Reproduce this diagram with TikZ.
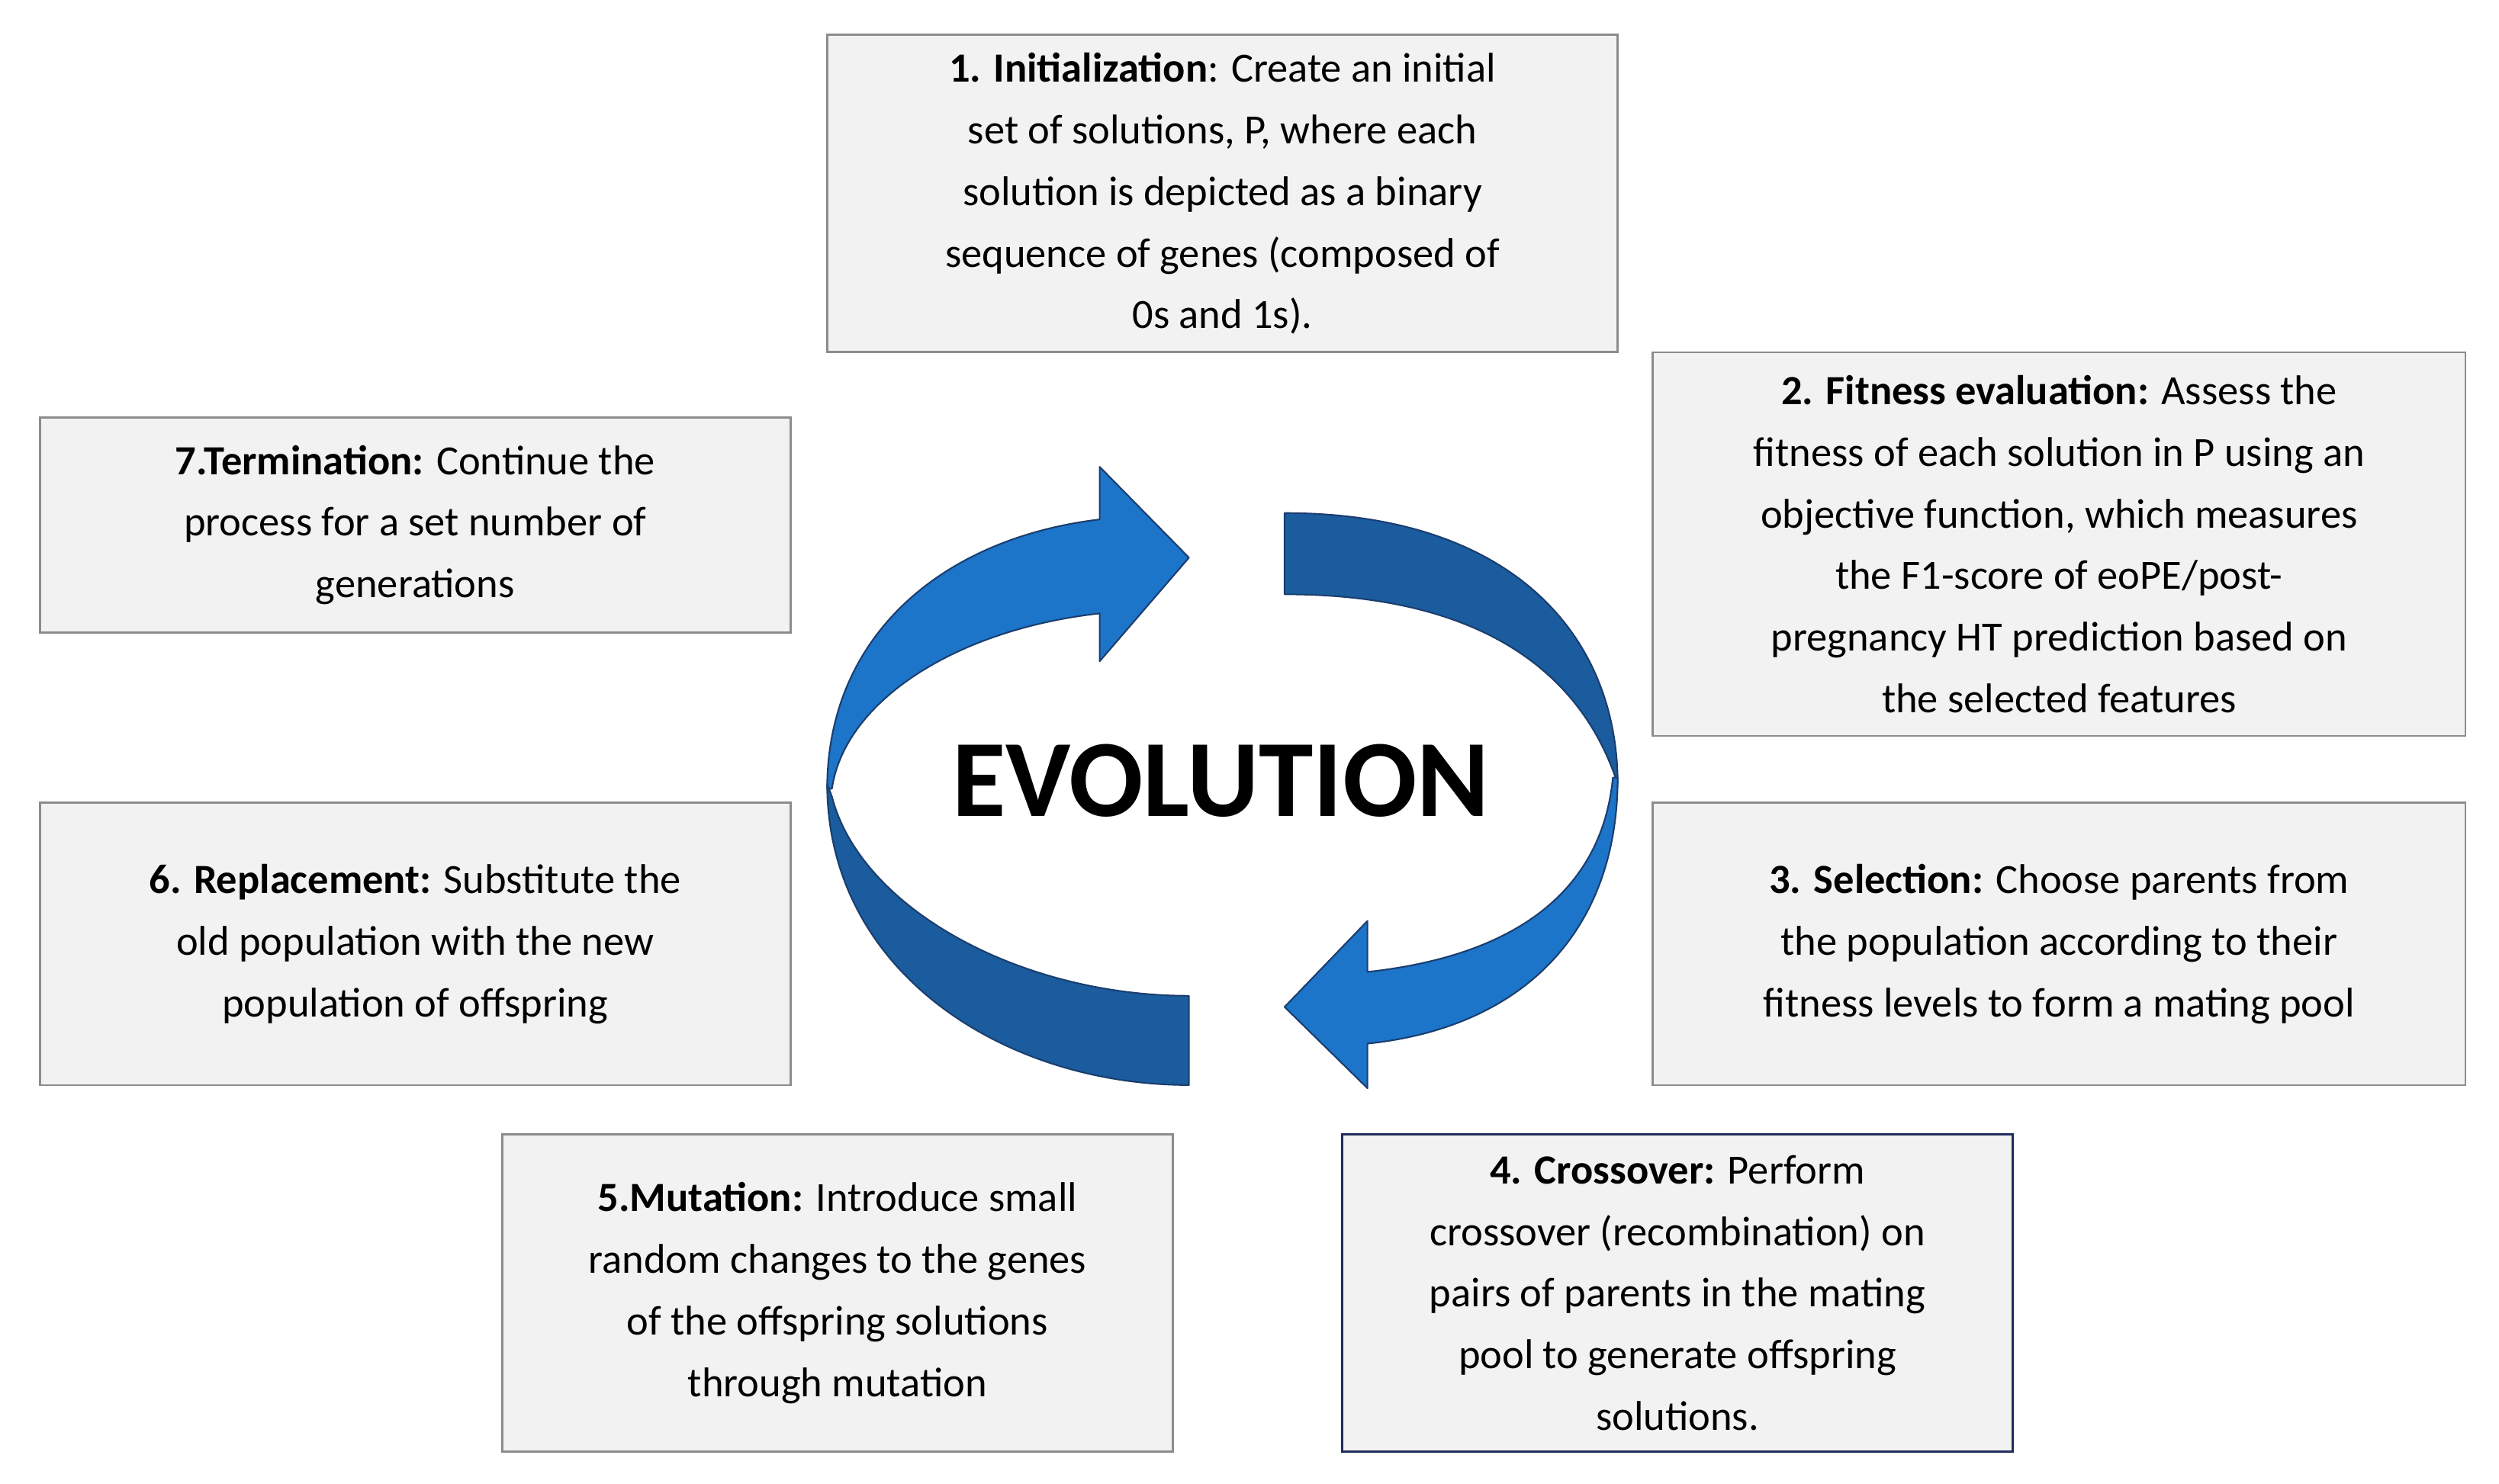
\documentclass[tikz,border=0pt]{standalone}
\usepackage{fontspec}
\setmainfont{Carlito}
\definecolor{boxfill}{HTML}{F2F2F2}
\definecolor{boxline}{HTML}{8C8C8C}
\definecolor{navy}{HTML}{1F2B5C}
\definecolor{lightarrow}{HTML}{1C75C9}
\definecolor{darkarrow}{HTML}{1A5C9E}
\definecolor{arrowline}{HTML}{1B3E6E}
\tikzset{
  stepbox/.style={draw=boxline,fill=boxfill,line width=0.8pt,align=center,
    inner sep=0pt,font=\fontsize{15.5}{23}\selectfont},
  ring/.style={draw=arrowline,line width=0.6pt,line join=round}
}
\begin{document}
\begin{tikzpicture}[x=0.02089cm,y=-0.02089cm]
  \useasboundingbox (0,0) rectangle (1568,931);

  % step boxes
  \node (init) [stepbox,minimum width=10.36cm,minimum height=4.16cm] at (767,121.5)
    {\textbf{1. Initialization}: Create an initial\\set of solutions, P, where each\\solution is depicted as a binary\\sequence of genes (composed of\\0s and 1s).};

  \node (fit) [stepbox,minimum width=10.65cm,minimum height=5.03cm] at (1292,341.5)
    {\textbf{2. Fitness evaluation:} Assess the\\fitness of each solution in P using an\\objective function, which measures\\the F1-score of eoPE/post-\\pregnancy HT prediction based on\\the selected features};

  \node (sel) [stepbox,minimum width=10.65cm,minimum height=3.70cm] at (1292,592.5)
    {\textbf{3. Selection:} Choose parents from\\the population according to their\\fitness levels to form a mating pool};

  \node (cross) [stepbox,draw=navy,minimum width=8.79cm,minimum height=4.16cm] at (1052.5,811.5)
    {\textbf{4. Crossover:} Perform\\crossover (recombination) on\\pairs of parents in the mating\\pool to generate offspring\\solutions.};

  \node (mut) [stepbox,minimum width=8.79cm,minimum height=4.16cm] at (525.5,811.5)
    {\textbf{5.Mutation:} Introduce small\\random changes to the genes\\of the offspring solutions\\through mutation};

  \node (repl) [stepbox,minimum width=9.84cm,minimum height=3.70cm] at (260.5,592.5)
    {\textbf{6. Replacement:} Substitute the\\old population with the new\\population of offspring};

  \node (term) [stepbox,minimum width=9.84cm,minimum height=2.82cm] at (260.5,329.5)
    {\textbf{7.Termination:} Continue the\\process for a set number of\\generations};

  % ring of arrows
  \filldraw [ring,fill=lightarrow] (519,495) .. controls (519,400) and (590,338) .. (690,326)
    -- (690,293) -- (746,350) -- (690,415) -- (690,385)
    .. controls (600,395) and (530,440) .. (522,495) -- cycle;

  \filldraw [ring,fill=darkarrow] (806,322) .. controls (950,322) and (1015,400) .. (1015,492)
    .. controls (990,415) and (920,373) .. (806,373) -- cycle;

  \filldraw [ring,fill=lightarrow] (1015,488) .. controls (1015,585) and (955,645) .. (858,655)
    -- (858,683) -- (806,632) -- (858,578) -- (858,610)
    .. controls (950,600) and (1005,560) .. (1012,488) -- cycle;

  \filldraw [ring,fill=darkarrow] (519,492) .. controls (519,610) and (630,681) .. (746,681)
    -- (746,625) .. controls (640,625) and (540,570) .. (522,500) -- cycle;

  \node (evo) at (766,490) {\fontsize{41}{41}\selectfont\textbf{EVOLUTION}};
\end{tikzpicture}
\end{document}
